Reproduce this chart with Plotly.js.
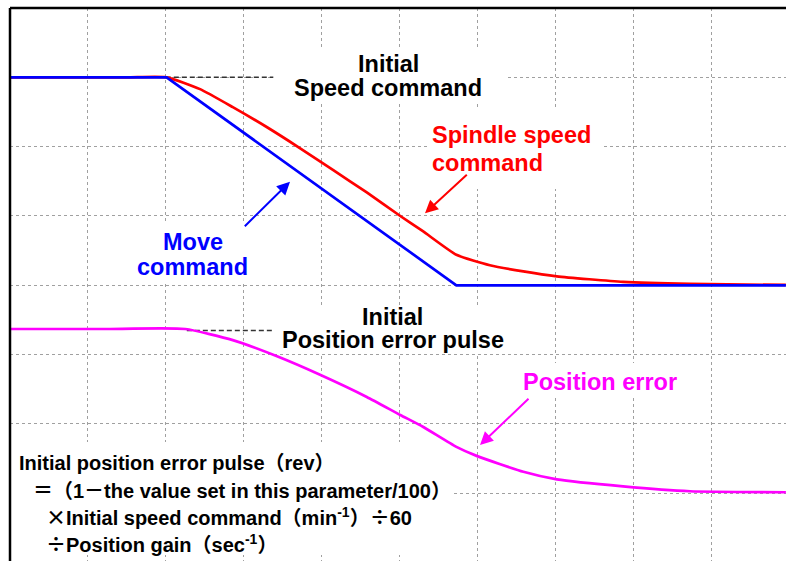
<!DOCTYPE html>
<html>
<head>
<meta charset="utf-8">
<script src="https://cdn.plot.ly/plotly-3.0.1.min.js"></script>
<style>html,body{margin:0;padding:0;background:#fff;}#chart{width:786px;height:561px;}</style>
</head>
<body>
<div id="chart"></div>
<script>
// ---- data (grid units; x: time divisions, y: level divisions) ----
const moveX = [0, 2.01, 5.73, 9.96];
const moveY = [7, 7, 4, 4];

const spindleX = [0, 1.5, 2.01, 2.44, 2.86, 3.30, 3.72, 4.15, 4.58, 5.01, 5.30, 5.73, 6.16, 6.59, 7.02, 7.87, 8.73, 9.96];
const spindleY = [7, 7, 7, 6.83, 6.57, 6.28, 5.98, 5.66, 5.34, 5.00, 4.78, 4.44, 4.29, 4.20, 4.13, 4.05, 4.02, 4.005];

const posErrX = [0, 1.2, 2.25, 2.86, 3.42, 3.98, 4.58, 5.01, 5.30, 5.73, 5.99, 6.59, 7.02, 7.87, 8.73, 9.96];
const posErrY = [3.37, 3.37, 3.37, 3.21, 2.98, 2.71, 2.39, 2.13, 1.96, 1.67, 1.54, 1.31, 1.20, 1.10, 1.03, 1.015];

const refSpeedX = [2.0, 3.38];
const refSpeedY = [7, 7];
const refPosX = [2.27, 3.38];
const refPosY = [3.35, 3.35];

const CJK = s => '<span style="font-family:\'Noto Sans CJK JP\'">' + s + '</span>';
const formulaLines = [
  "Initial position error pulse（rev）",
  CJK("＝") + "（1－the value set in this parameter/100）",
  CJK("×") + "Initial speed command（min<sup>-1</sup>）" + CJK("÷") + "60",
  CJK("÷") + "Position gain（sec<sup>-1</sup>）"
];

// ---- pixel helpers for layout placement ----
const L = 10, T = 8, GX = 77.9, GY = 69.33, W = 786, H = 561;
const X = px => (px - L) / GX;
const Y = py => 8 - (py - T) / GY;
const FONT = "Liberation Sans, Arial, Noto Sans CJK JP, sans-serif";

function label(text, px, baseline, color, size, xanchor) {
  return {
    x: X(px), y: Y(baseline - 0.3465 * size), xref: 'x', yref: 'y',
    text: '<b>' + text + '</b>', showarrow: false,
    xanchor: xanchor || 'center', yanchor: 'middle',
    font: {family: FONT, size: size, color: color}
  };
}
function arrow(tx, ty, hx, hy, color) {
  return {
    x: X(hx), y: Y(hy), ax: X(tx), ay: Y(ty), xref: 'x', yref: 'y', axref: 'x', ayref: 'y',
    text: '', showarrow: true, arrowhead: 2, arrowsize: 1.3, arrowwidth: 2, arrowcolor: color, standoff: 0, startstandoff: 0
  };
}
function mask(x0, y0, x1, y1) {
  return {type: 'rect', xref: 'x', yref: 'y', x0: X(x0), x1: X(x1), y0: Y(y0), y1: Y(y1),
    fillcolor: '#ffffff', line: {width: 0}, layer: 'between'};
}

const S = 23.5;
const annotations = [
  label('Initial', 388, 71.7, '#000000', S),
  label('Speed command', 388, 96, '#000000', S),
  label('Spindle speed', 430, 142.7, '#ff0000', S, 'left'),
  label('command', 430, 170.7, '#ff0000', S, 'left'),
  label('Move', 193, 250, '#0000ff', S),
  label('command', 192.5, 275, '#0000ff', S),
  label('Initial', 392.5, 324.7, '#000000', S),
  label('Position error pulse', 392.5, 348, '#000000', S),
  label('Position error', 600.3, 390, '#ff00ff', S),
  label(formulaLines[0], 16.7, 470, '#000000', 20, 'left'),
  label(formulaLines[1], 31, 496, '#000000', 20, 'left'),
  label(formulaLines[2], 44, 523.3, '#000000', 20, 'left'),
  label(formulaLines[3], 44, 550, '#000000', 20, 'left'),
  arrow(243.3, 227.7, 290, 181.7, '#0000ff'),
  arrow(468.3, 173.3, 425, 213.3, '#ff0000'),
  arrow(530, 397.3, 480, 445, '#ff00ff')
];

const shapes = [
  mask(273, 50, 505, 101),
  mask(430, 110, 602, 189),
  mask(125, 222, 255, 283),
  mask(273, 305, 515, 353),
  mask(515, 363, 690, 395),
  mask(10, 442, 453, 555),
  {type: 'line', xref: 'paper', yref: 'paper', x0: 0, x1: 0, y0: 0, y1: 1, line: {color: '#000', width: 2.5}},
  {type: 'line', xref: 'paper', yref: 'paper', x0: 0, x1: 1, y0: 1, y1: 1, line: {color: '#000', width: 2.5}}
];

const traces = [
  {x: refSpeedX, y: refSpeedY, mode: 'lines', line: {color: '#333333', width: 1.5, dash: '5px,3px'}, hoverinfo: 'skip'},
  {x: refPosX, y: refPosY, mode: 'lines', line: {color: '#333333', width: 1.5, dash: '5px,3px'}, hoverinfo: 'skip'},
  {x: spindleX, y: spindleY, mode: 'lines', name: 'Spindle speed command', line: {color: '#ff0000', width: 2.7, shape: 'spline', smoothing: 0.5}},
  {x: moveX, y: moveY, mode: 'lines', name: 'Move command', line: {color: '#0000ff', width: 2.7}},
  {x: posErrX, y: posErrY, mode: 'lines', name: 'Position error', line: {color: '#ff00ff', width: 2.7, shape: 'spline', smoothing: 0.5}}
];

const axisCommon = {
  showgrid: true, gridcolor: '#a0a0a0', gridwidth: 1, griddash: '3px,3px',
  zeroline: false, showline: false, ticks: '', showticklabels: false, dtick: 1, tick0: 0, fixedrange: true
};

const layout = {
  width: W, height: H,
  margin: {l: L, r: 0, t: T, b: 0, pad: 0},
  paper_bgcolor: '#ffffff', plot_bgcolor: '#ffffff',
  showlegend: false,
  xaxis: Object.assign({}, axisCommon, {range: [0, (W - L) / GX]}),
  yaxis: Object.assign({}, axisCommon, {range: [8 - (H - T) / GY, 8]}),
  annotations: annotations,
  shapes: shapes
};

Plotly.newPlot('chart', traces, layout, {staticPlot: true, displayModeBar: false});
</script>
</body>
</html>
